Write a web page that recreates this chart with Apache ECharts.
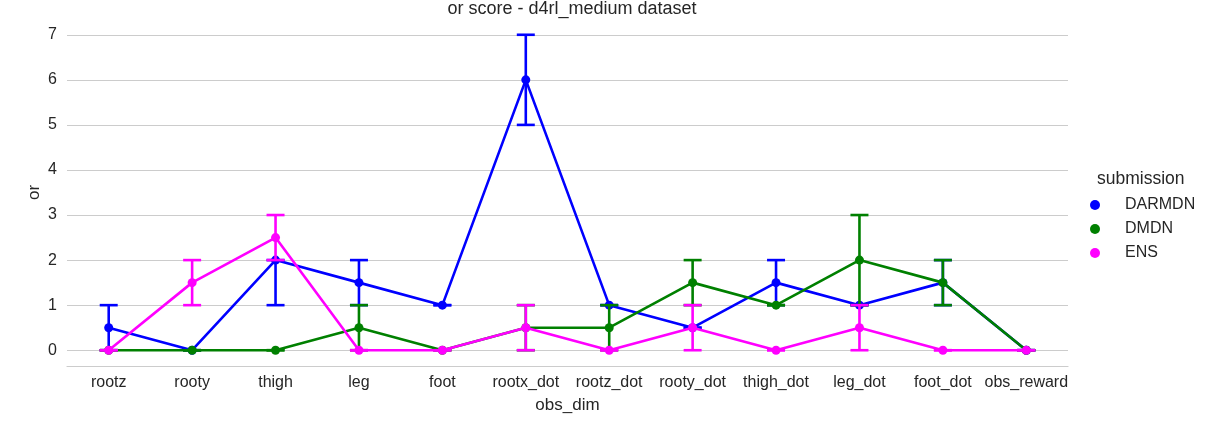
<!DOCTYPE html>
<html>
<head>
<meta charset="utf-8">
<title>or score - d4rl_medium dataset</title>
<script src="https://cdn.jsdelivr.net/npm/echarts@6/dist/echarts.min.js"></script>
<style>
  html, body { margin: 0; padding: 0; background: #fff; }
  #chart { width: 1211px; height: 432px; }
</style>
</head>
<body>
<div id="chart"></div>
<script>
var categories = ['rootz', 'rooty', 'thigh', 'leg', 'foot', 'rootx_dot', 'rootz_dot',
                  'rooty_dot', 'thigh_dot', 'leg_dot', 'foot_dot', 'obs_reward'];
var yTicks = [0, 1, 2, 3, 4, 5, 6, 7];

// mean values per submission
var darmdnMean = [0.5, 0, 2, 1.5, 1, 6, 1, 0.5, 1.5, 1, 1.5, 0];
var dmdnMean   = [0, 0, 0, 0.5, 0, 0.5, 0.5, 1.5, 1, 2, 1.5, 0];
var ensMean    = [0, 1.5, 2.5, 0, 0, 0.5, 0, 0.5, 0, 0.5, 0, 0];

// confidence interval bounds
var darmdnLow  = [0, 0, 1, 1, 1, 5, 1, 0.5, 1, 1, 1, 0];
var darmdnHigh = [1, 0, 2, 2, 1, 7, 1, 0.5, 2, 1, 2, 0];
var dmdnLow    = [0, 0, 0, 0, 0, 0, 0, 1, 1, 1, 1, 0];
var dmdnHigh   = [0, 0, 0, 1, 0, 1, 1, 2, 1, 3, 2, 0];
var ensLow     = [0, 1, 2, 0, 0, 0, 0, 0, 0, 0, 0, 0];
var ensHigh    = [0, 2, 3, 0, 0, 1, 0, 1, 0, 1, 0, 0];

var FONT = '"Liberation Sans", Arial, sans-serif';
var TEXT = '#262626';

var chart = echarts.init(document.getElementById('chart'));

function errData(lo, hi) {
    return lo.map(function (v, i) { return [i, v, hi[i]]; });
}

// error bar with caps, drawn through the axis scales
function renderErr(color) {
    return function (params, api) {
        var top = api.coord([api.value(0), api.value(2)]);
        var bot = api.coord([api.value(0), api.value(1)]);
        var hw = 9;
        var st = { stroke: color, lineWidth: 2.6 };
        return {
            type: 'group',
            children: [
                { type: 'line', shape: { x1: top[0], y1: top[1], x2: bot[0], y2: bot[1] }, style: st },
                { type: 'line', shape: { x1: top[0] - hw, y1: top[1], x2: top[0] + hw, y2: top[1] }, style: st },
                { type: 'line', shape: { x1: bot[0] - hw, y1: bot[1], x2: bot[0] + hw, y2: bot[1] }, style: st }
            ]
        };
    };
}

var groups = [
    { name: 'DARMDN', color: '#0000ff', mean: darmdnMean, lo: darmdnLow, hi: darmdnHigh },
    { name: 'DMDN', color: '#008000', mean: dmdnMean, lo: dmdnLow, hi: dmdnHigh },
    { name: 'ENS', color: '#ff00ff', mean: ensMean, lo: ensLow, hi: ensHigh }
];

var series = [];
groups.forEach(function (g, k) {
    series.push({
        name: g.name + '_ci',
        type: 'custom',
        renderItem: renderErr(g.color),
        data: errData(g.lo, g.hi),
        encode: { x: 0, y: [1, 2] },
        z: 10 + k * 2,
        silent: true
    });
    series.push({
        name: g.name,
        type: 'line',
        data: g.mean,
        color: g.color,
        symbol: 'circle',
        symbolSize: 9,
        lineStyle: { width: 2.6, color: g.color },
        itemStyle: { color: g.color },
        z: 11 + k * 2,
        animation: false
    });
});

var option = {
    animation: false,
    backgroundColor: '#ffffff',
    title: [
        {
            text: 'or score - d4rl_medium dataset',
            left: 567, top: -5, textAlign: 'center',
            textStyle: { fontFamily: FONT, fontSize: 18, fontWeight: 'normal', color: TEXT }
        },
        {
            text: 'submission',
            left: 1092, top: 165,
            textStyle: { fontFamily: FONT, fontSize: 17.5, fontWeight: 'normal', color: TEXT }
        }
    ],
    legend: {
        data: ['DARMDN', 'DMDN', 'ENS'],
        orient: 'vertical',
        left: 1090, top: 197,
        padding: 0,
        itemWidth: 10, itemHeight: 14, itemGap: 8,
        icon: 'circle',
        textStyle: { fontFamily: FONT, fontSize: 16, color: TEXT, lineHeight: 14, padding: [0, 0, 0, 20] }
    },
    grid: { left: 67, right: 143, top: 19, bottom: 66 },
    xAxis: {
        type: 'category',
        data: categories,
        boundaryGap: true,
        name: 'obs_dim',
        nameLocation: 'middle',
        nameGap: 31,
        nameTextStyle: { fontFamily: FONT, fontSize: 17, color: TEXT },
        axisLine: { show: true, onZero: false, lineStyle: { color: '#cccccc', width: 1.2 } },
        axisTick: { show: false },
        axisLabel: { fontFamily: FONT, fontSize: 16, color: TEXT, margin: 9, interval: 0 },
        splitLine: { show: false }
    },
    yAxis: {
        type: 'value',
        min: -0.35, max: 7.35,
        name: 'or',
        nameLocation: 'middle',
        nameGap: 24,
        nameMoveOverlap: false,
        nameTextStyle: { fontFamily: FONT, fontSize: 17, color: TEXT },
        axisLine: { show: false },
        axisTick: { show: false },
        axisLabel: {
            fontFamily: FONT, fontSize: 16, color: TEXT, margin: 10,
            customValues: yTicks
        },
        axisPointer: { show: false },
        splitLine: {
            show: true, showMinLine: false, showMaxLine: false,
            lineStyle: { color: '#cccccc', width: 1.1 }
        },
        splitNumber: 8
    },
    series: series
};

chart.setOption(option);
</script>
</body>
</html>
